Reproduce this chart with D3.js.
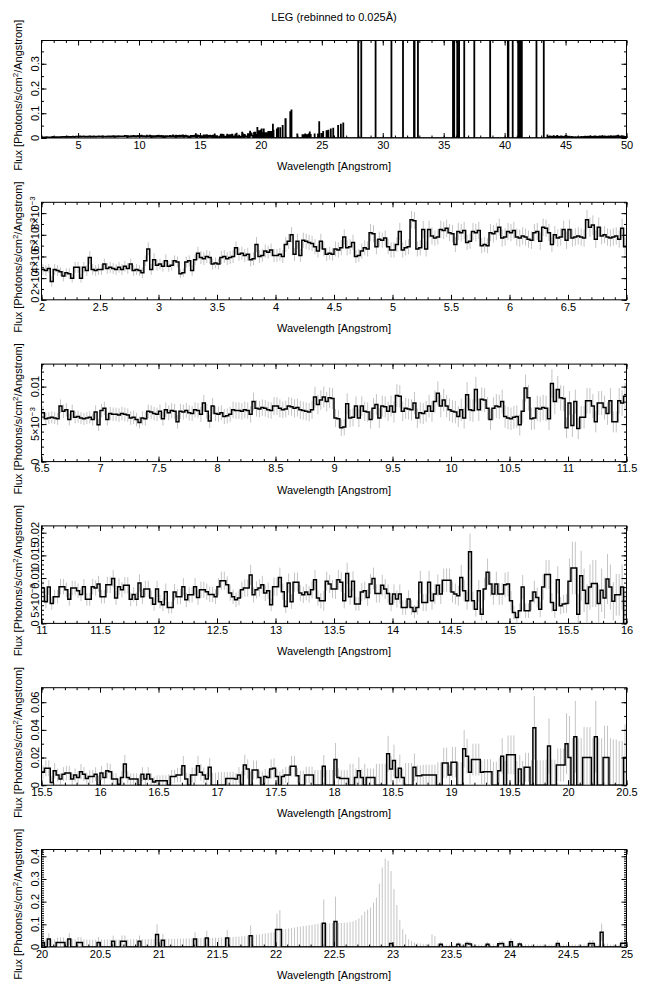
<!DOCTYPE html>
<html>
<head>
<meta charset="utf-8">
<script src="https://cdn.jsdelivr.net/npm/d3@7"></script>
<style>
  body { margin: 0; background: #fff; }
  svg text { font-family: "Liberation Sans", Arial, Helvetica, sans-serif; fill: #000; }
</style>
</head>
<body>
<div id="chart"></div>
<script>
const binWidth = 0.025;
const fluxUnit = 1e-4; // all flux / error arrays are in units of 1e-4 photons/s/cm^2/A

// 2.0 - 6.5 A
const flux2to6 = [
  28,27,29,17,28,27,26,22,25,24, 20,30,30,20,30,27,39,28,27,28,
  28,33,29,30,29,28,30,28,31,29, 33,27,28,27,25,36,47,28,37,32,
  33,31,36,31,32,36,35,24,25,35, 36,27,37,43,39,38,40,39,33,34,
  33,39,40,38,39,40,48,42,43,41, 42,37,38,51,40,41,45,44,46,41,
  41,42,40,51,54,60,42,54,41,55, 54,53,52,49,45,54,47,42,43,42,
  47,46,48,58,48,49,53,40,41,45, 48,47,62,61,49,56,55,57,49,46,
  46,51,63,46,48,49,74,73,47,48, 65,47,65,59,57,58,65,64,66,62,
  61,51,63,62,64,53,54,63,62,64, 50,51,50,62,61,63,67,57,58,63,
  62,64,58,57,59,58,56,55,62,63, 54,67,66,62,51,60,57,58,65,55
];
const err2to6 = [
  5,5,4,5,5,5,4,5,4,5, 4,5,5,4,5,5,6,5,5,5, 5,5,5,5,5,5,5,5,5,5,
  5,5,5,5,5,5,6,5,6,5, 5,5,6,5,5,5,5,4,4,5, 5,5,5,6,6,6,6,6,5,5,
  5,6,6,6,6,6,6,6,6,6, 6,6,6,7,6,6,6,6,6,6, 6,6,6,7,7,7,6,7,6,7,
  7,7,7,7,6,7,7,6,6,6, 7,7,7,7,7,7,7,6,6,7, 7,7,8,8,7,7,7,7,7,7,
  7,7,8,7,7,7,8,8,7,7, 8,7,8,8,7,7,8,8,8,8, 8,7,8,8,8,7,7,8,8,8,
  7,7,7,8,8,8,8,8,8,8, 8,8,8,8,8,8,8,8,8,8, 8,8,8,8,7,8,8,8,8,8
];

// 6.5 - 11.0 A
const flux6to11 = [
  65,57,58,59,58,57,74,67,69,56, 67,59,60,58,57,58,59,56,66,49,
  68,71,56,64,63,63,62,64,63,62, 58,59,56,52,58,57,67,66,64,63,
  67,57,69,65,68,67,53,67,66,68, 65,64,69,68,63,78,67,54,74,64,
  63,65,60,61,63,69,68,68,67,69, 68,63,80,71,70,72,71,69,68,74,
  74,71,69,70,74,73,71,72,69,68, 67,66,69,86,76,82,86,80,85,84,
  58,57,45,46,77,58,59,74,58,74, 67,66,56,71,76,58,74,73,67,74,
  66,88,87,67,71,70,69,78,58,65, 64,67,74,67,80,91,74,82,74,69,
  67,66,60,69,58,89,69,68,96,69, 83,82,71,56,71,74,73,80,60,58,
  57,59,60,49,67,98,85,57,58,71, 70,72,71,57,104,80,96,85,84,45
];
const err6to11 = [
  9,8,8,8,8,8,9,9,9,8, 9,8,8,8,8,8,8,8,9,8, 9,9,8,9,9,9,9,9,9,9,
  9,9,9,8,9,9,9,9,9,9, 9,9,10,10,10,10,9,10,10,10, 10,10,10,10,10,11,10,9,11,10,
  10,10,10,10,10,11,11,11,11,11, 11,11,12,11,11,11,11,11,11,12, 12,12,11,11,12,12,12,12,12,12,
  12,12,12,14,13,13,14,13,14,14, 12,12,11,11,14,12,12,13,12,13, 13,13,12,14,14,13,14,14,13,14,
  14,15,15,13,14,14,14,15,13,14, 14,14,15,14,15,16,15,15,15,15, 15,15,14,15,14,17,15,15,17,15,
  16,16,15,14,15,16,16,16,15,15, 15,15,15,14,16,18,17,15,15,17, 17,17,17,15,19,17,18,17,17,14
];

// 11.0 - 15.5 A
const flux11to15 = [
  78,48,80,44,59,59,81,81,74,53, 78,78,72,64,81,53,53,81,78,87,
  59,59,85,85,99,56,81,74,84,84, 53,64,53,89,59,76,76,56,42,76,
  48,41,70,35,35,69,59,59,81,52, 63,63,81,57,74,74,70,64,64,59,
  81,94,94,85,67,59,52,56,74,78, 78,107,63,74,78,85,67,72,41,81,
  81,101,70,37,89,48,91,91,67,63, 69,64,74,96,56,50,50,93,87,76,
  76,96,91,50,110,59,93,43,43,69, 72,57,87,99,66,66,84,76,66,43,
  65,54,65,35,35,54,35,26,35,91, 46,46,91,50,65,84,65,95,95,95,
  69,65,61,101,72,50,158,50,31,72, 20,76,113,87,65,87,65,65,85,87,
  50,24,13,28,80,28,28,50,69,57, 31,80,108,108,46,29,96,39,43,44
];
const err11to15 = [
  16,15,16,14,15,15,17,17,16,14, 16,16,16,15,17,14,14,17,17,18, 15,15,18,18,19,15,18,17,18,18,
  15,16,15,19,16,18,18,16,14,18, 15,14,18,13,13,18,17,17,19,16, 17,17,19,16,18,18,18,17,17,16,
  19,20,20,19,17,16,16,16,18,19, 19,22,17,19,19,20,18,18,14,20, 20,22,18,14,21,16,21,21,18,18,
  18,18,19,22,17,17,22,21,20,20, 22,22,22,17,24,18,22,15,15,20, 20,18,22,24,20,20,23,22,20,16,
  21,19,21,16,16,19,16,14,16,25, 19,19,25,20,22,24,22,26,26,26, 23,23,22,28,24,20,40,20,16,24,
  14,25,30,27,24,27,24,24,27,27, 21,15,11,16,27,16,16,21,25,22, 17,28,32,32,21,17,30,19,20,21
];

// 15.5 - 20.0 A
const flux15to20 = [
  93,122,122,20,105,73,44,80,88,88, 44,73,56,98,80,49,63,63,80,0,
  88,56,105,98,44,44,7,56,154,56, 44,44,44,0,80,44,80,44,24,32,
  32,32,32,0,63,63,73,73,141,44, 0,73,73,141,93,73,44,129,0,0,
  0,0,0,49,49,49,44,73,0,146, 117,0,110,110,56,0,63,56,117,122,
  63,0,63,73,73,137,137,68,0,0, 73,73,73,0,0,0,137,0,0,0,
  185,56,49,49,49,0,0,56,105,56, 0,56,56,56,0,0,0,0,227,117,
  178,56,122,56,0,0,0,129,68,68, 73,73,73,73,73,0,0,161,161,73,
  166,166,0,0,263,210,93,185,185,185, 93,98,98,98,0,0,105,210,0,220,
  220,220,0,117,0,129,129,0,415,0, 0,0,0,283,0,0,146,146,146,300
];
const err15to20 = [
  50,58,58,45,55,48,42,50,52,52, 42,48,45,55,50,42,46,46,50,70,
  52,45,55,55,42,42,40,45,65,45, 42,42,42,75,50,42,50,42,38,40,
  40,40,40,80,48,48,52,52,70,45, 85,55,55,72,60,55,45,68,90,90,
  95,95,95,48,48,48,45,58,100,75, 70,100,68,68,50,100,55,50,70,72,
  55,100,55,58,58,75,75,55,105,105, 60,60,60,110,110,110,80,110,110,110,
  120,65,60,60,60,155,155,65,95,65, 155,65,65,65,155,155,155,155,130,95,
  115,65,100,65,160,160,160,100,75,75, 75,75,75,75,75,165,165,110,110,75,
  110,110,165,165,135,125,85,115,115,115, 85,90,90,90,170,170,95,130,175,140,
  140,140,175,100,175,105,105,180,230,180, 180,180,185,200,185,185,120,120,120,220
];

// 20.0 - 25.0 A
const flux20to25 = [
  200,0,350,0,0,200,200,200,0,350, 0,0,200,200,0,0,0,0,0,200,
  0,0,0,0,250,0,0,250,250,0, 0,0,0,250,0,0,0,0,0,550,
  0,300,0,0,0,0,0,0,0,0, 0,0,350,0,0,0,400,0,0,0,
  0,0,0,400,0,0,0,0,0,0, 0,500,0,0,0,0,0,0,0,0,
  770,770,0,0,0,0,0,0,0,0, 0,0,0,0,0,0,1050,0,0,0,
  1120,0,0,0,0,0,0,0,0,0, 0,0,0,0,0,0,0,0,0,150,
  0,0,0,0,0,0,0,0,0,0, 0,0,0,0,0,0,120,0,0,0,
  0,0,120,0,0,150,130,0,0,0, 0,0,120,0,0,0,140,150,0,0,
  230,0,0,130,0,0,0,0,0,0, 0,0,0,0,0,0,150,0,0,0,
  0,0,0,0,0,0,0,150,150,0, 0,650,0,0,0,0,0,0,170,170
];
const err20to25 = [
  300,340,260,340,340,220,220,220,340,260, 340,340,230,230,340,330,330,320,320,240,
  330,330,330,330,250,330,330,260,260,340, 340,340,340,260,340,340,350,350,350,450,
  350,280,360,360,360,360,370,370,370,380, 380,380,300,390,390,390,320,400,400,410,
  410,420,420,350,430,440,450,460,470,480, 500,450,520,540,560,580,600,620,640,660,
  700,850,780,800,820,840,860,880,900,920, 940,960,980,1000,1020,1040,1050,1050,1050,1060,
  1100,1060,1060,1070,1080,1100,1130,1180,1260,1400, 1560,1650,1740,1950,2180,2790,3500,3900,3800,3200,
  2550,1850,1200,780,560,340,260,200,170,150, 140,130,150,560,480,150,110,110,110,110,
  110,110,110,110,110,120,120,110,110,110, 110,110,110,110,110,110,120,120,110,110,
  150,110,110,110,110,110,110,110,110,110, 110,110,110,110,110,110,150,110,110,110,
  110,110,110,110,110,110,110,150,150,110, 110,380,150,150,110,110,110,110,150,150
];

const segmentStarts = [2, 6.5, 11, 15.5, 20];
const segmentFlux = [flux2to6, flux6to11, flux11to15, flux15to20, flux20to25];
const segmentErr = [err2to6, err6to11, err11to15, err15to20, err20to25];

// top panel only: non-zero bins above 25 A (the rest are empty)
const tailWave = [25.1, 25.375, 25.525, 25.725, 25.925, 26.325, 26.55, 26.75,
  27.975, 28.225, 29.4, 30.7, 31.65, 32.55, 32.6, 32.875,
  35.75, 35.8, 35.85, 36.1, 36.25, 36.675, 37.5, 38.8,
  40.25, 40.3, 40.65, 41.1, 41.15, 41.2, 41.3, 41.35, 41.4, 42.6, 43.2];
const tailFlux = [250, 280, 300, 350, 380, 500, 550, 600,
  30000, 30000, 30000, 30000, 30000, 30000, 30000, 30000,
  30000, 30000, 30000, 30000, 30000, 30000, 30000, 30000,
  30000, 30000, 30000, 30000, 30000, 30000, 30000, 30000, 30000, 30000, 30000];
const lowTailStart = 43.5;
const lowTailStep = 0.1;
const lowTailFlux = [110,50,70,60,50,80,60,50,90,60, 50,70,60,50,60,90,70,50,60,40,
  50,40,30,40,30,40,30,40,50,40, 50,60,50,60,50,70,60,50,60,70,
  60,50,60,70,60,80,60,70,60,50, 70,60,80,60,70,60,70,80,100,70, 60,80,70,60,50];

const panelDomains = [[2, 50], [2, 7], [6.5, 11.5], [11, 16], [15.5, 20.5], [20, 25]];
const panelXMajor = [5, 0.5, 0.5, 0.5, 0.5, 0.5];
const panelXMinor = [1, 0.1, 0.1, 0.1, 0.1, 0.1];
const panelYMax = [0.394, 0.009, 0.013, 0.0215, 0.0705, 0.43];
const panelYTicks = [
  [0, 0.1, 0.2, 0.3],
  [0, 0.002, 0.004, 0.006, 0.008],
  [0, 0.005, 0.01],
  [0, 0.005, 0.01, 0.015, 0.02],
  [0, 0.02, 0.04, 0.06],
  [0, 0.1, 0.2, 0.3, 0.4]
];
const panelYLabels = [
  ['0', '0.1', '0.2', '0.3'],
  ['0', '2×10^−3', '4×10^−3', '6×10^−3', '8×10^−3'],
  ['0', '5×10^−3', '0.01'],
  ['0', '5×10^−3', '0.01', '0.015', '0.02'],
  ['0', '0.02', '0.04', '0.06'],
  ['0', '0.1', '0.2', '0.3', '0.4']
];
const panelYMinor = [0.05, 0.001, 0.001, 0.001, 0.01, 0.01];

const titleText = 'LEG (rebinned to 0.025Å)';
const xTitle = 'Wavelength [Angstrom]';

// ---- layout
const width = 647, height = 995;
const plotLeft = 41.5, plotW = 585, plotH = 97.5;
const firstTop = 40.5, panelStep = 161.8;

// bins 2 - 25 A
const bins = [];
segmentStarts.forEach((s, k) => {
  segmentFlux[k].forEach((f, j) => {
    const lo = +(s + j * binWidth).toFixed(3);
    bins.push({ lo, hi: +(lo + binWidth).toFixed(3), flux: f * fluxUnit, err: segmentErr[k][j] * fluxUnit });
  });
});

// bins 25 - 50 A for the overview panel
const tailBins = d3.range(1000).map((j) => {
  const lo = +(25 + j * binWidth).toFixed(3);
  return { lo, hi: +(lo + binWidth).toFixed(3), flux: 0 };
});
tailWave.forEach((w, i) => {
  tailBins[Math.round((w - 25) / binWidth)].flux = tailFlux[i] * fluxUnit;
});
lowTailFlux.forEach((f, i) => {
  tailBins[Math.round((lowTailStart + i * lowTailStep - 25) / binWidth)].flux = f * fluxUnit;
});

const tickRange = (lo, hi, step) =>
  d3.range(Math.ceil(lo / step - 1e-6), Math.floor(hi / step + 1e-6) + 1).map((k) => +(k * step).toFixed(6));

const svg = d3.select('#chart').append('svg').attr('width', width).attr('height', height);

svg.append('text')
  .attr('x', 334).attr('y', 21)
  .attr('text-anchor', 'middle')
  .style('font-size', '11px')
  .text(titleText);

panelDomains.forEach((dom, p) => {
  const top = firstTop + p * panelStep;
  const g = svg.append('g').attr('transform', `translate(${plotLeft}, ${top})`);

  const x = d3.scaleLinear().domain(dom).range([0, plotW]);
  const y = d3.scaleLinear().domain([0, panelYMax[p]]).range([plotH, 0]);

  const clipId = 'clip' + p;
  g.append('clipPath').attr('id', clipId)
    .append('rect').attr('width', plotW).attr('height', plotH);
  const plot = g.append('g').attr('clip-path', `url(#${clipId})`);

  const source = p === 0 ? bins.concat(tailBins) : bins;
  const shown = source.filter((d) => d.lo >= dom[0] - 1e-6 && d.hi <= dom[1] + 1e-6);

  // error bars
  if (p > 0) {
    plot.selectAll('line.err')
      .data(shown)
      .join('line')
      .attr('class', 'err')
      .attr('x1', (d) => x((d.lo + d.hi) / 2))
      .attr('x2', (d) => x((d.lo + d.hi) / 2))
      .attr('y1', (d) => y(Math.max(0, d.flux - d.err)))
      .attr('y2', (d) => y(d.flux + d.err))
      .attr('stroke', '#c4c4c4')
      .attr('stroke-width', 1);
  }

  // histogram steps
  const pts = [];
  shown.forEach((d) => { pts.push([d.lo, d.flux]); pts.push([d.hi, d.flux]); });
  plot.append('path')
    .datum(pts)
    .attr('fill', 'none')
    .attr('stroke', '#000')
    .attr('stroke-width', 1.5)
    .attr('d', d3.line().x((d) => x(d[0])).y((d) => y(d[1])));

  // frame
  g.append('rect')
    .attr('width', plotW).attr('height', plotH)
    .attr('fill', 'none').attr('stroke', '#000').attr('stroke-width', 1);

  const xMajor = tickRange(dom[0], dom[1], panelXMajor[p]);
  const xMinor = tickRange(dom[0], dom[1], panelXMinor[p]);
  const yMinor = tickRange(0, panelYMax[p], panelYMinor[p]);

  const addAxis = (axis, transform) => {
    g.append('g').attr('transform', transform).call(axis)
      .call((s) => s.select('.domain').remove())
      .call((s) => s.selectAll('line').attr('stroke', '#000'));
  };

  // x ticks (inward, bottom and top)
  addAxis(d3.axisBottom(x).tickValues(xMinor).tickSize(-2.5).tickFormat(''), `translate(0, ${plotH})`);
  addAxis(d3.axisTop(x).tickValues(xMinor).tickSize(-2.5).tickFormat(''), 'translate(0, 0)');
  addAxis(d3.axisTop(x).tickValues(xMajor).tickSize(-5).tickFormat(''), 'translate(0, 0)');
  g.append('g').attr('transform', `translate(0, ${plotH})`)
    .call(d3.axisBottom(x).tickValues(xMajor).tickSize(-5).tickPadding(3).tickFormat((v) => String(v)))
    .call((s) => s.select('.domain').remove())
    .call((s) => s.selectAll('line').attr('stroke', '#000'))
    .call((s) => s.selectAll('text').style('font-size', '11px').attr('fill', '#000').style('font-family', '"Liberation Sans", Arial, sans-serif'));

  // y ticks (inward, left and right)
  addAxis(d3.axisLeft(y).tickValues(yMinor).tickSize(-2.5).tickFormat(''), 'translate(0, 0)');
  addAxis(d3.axisRight(y).tickValues(yMinor).tickSize(-2.5).tickFormat(''), `translate(${plotW}, 0)`);
  addAxis(d3.axisLeft(y).tickValues(panelYTicks[p]).tickSize(-5).tickFormat(''), 'translate(0, 0)');
  addAxis(d3.axisRight(y).tickValues(panelYTicks[p]).tickSize(-5).tickFormat(''), `translate(${plotW}, 0)`);

  // rotated y tick labels
  panelYTicks[p].forEach((v, i) => {
    const label = panelYLabels[p][i];
    const t = g.append('text')
      .attr('transform', `translate(-2.5, ${y(v)}) rotate(-90)`)
      .attr('text-anchor', 'middle')
      .style('font-size', '11px');
    if (label.includes('^')) {
      const [base, sup] = label.split('^');
      t.append('tspan').text(base);
      t.append('tspan').attr('dy', -4).style('font-size', '8px').text(sup);
    } else {
      t.text(label);
    }
  });

  // axis titles
  const yt = g.append('text')
    .attr('transform', `translate(-20, ${plotH / 2 + 6}) rotate(-90)`)
    .attr('text-anchor', 'middle')
    .style('font-size', '11px');
  yt.append('tspan').text('Flux [Photons/s/cm');
  yt.append('tspan').attr('dy', -4).style('font-size', '8px').text('2');
  yt.append('tspan').attr('dy', 4).text('/Angstrom]');

  g.append('text')
    .attr('x', plotW / 2).attr('y', plotH + 32)
    .attr('text-anchor', 'middle')
    .style('font-size', '11px')
    .text(xTitle);
});
</script>
</body>
</html>
